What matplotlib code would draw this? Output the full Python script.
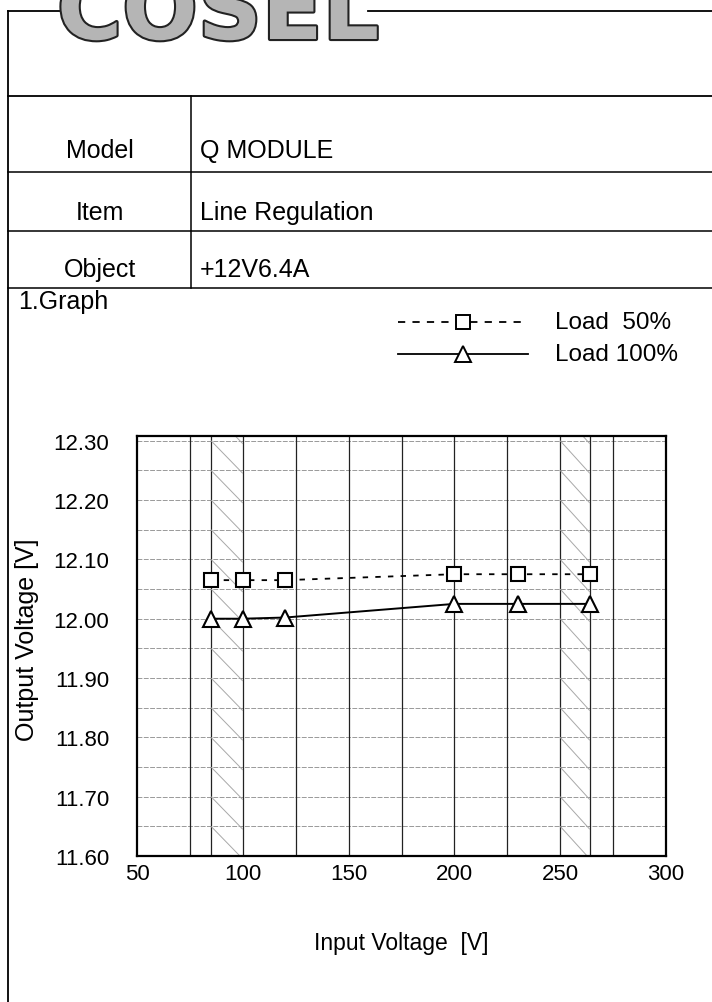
import matplotlib
matplotlib.use("Agg")
import matplotlib.pyplot as plt
import numpy as np
from matplotlib.lines import Line2D
import matplotlib.patheffects as pe

# ---------------- data ----------------
input_voltage = [85, 100, 120, 200, 230, 264]
load_50 = [12.065, 12.065, 12.065, 12.075, 12.075, 12.075]
load_100 = [12.000, 12.000, 12.002, 12.025, 12.025, 12.025]
series_labels = ["Load  50%", "Load 100%"]
x_ticks = [50, 100, 150, 200, 250, 300]
y_ticks = [11.60, 11.70, 11.80, 11.90, 12.00, 12.10, 12.20, 12.30]
hatched_bands = [(85, 100), (250, 264)]
extra_vlines = [85, 264]
table_rows = [("Model", "Q MODULE"), ("Item", "Line Regulation"), ("Object", "+12V6.4A")]

FONT = ["Liberation Sans", "DejaVu Sans"]
plt.rcParams["font.family"] = FONT

W, H = 712, 1003
fig = plt.figure(figsize=(W / 100, H / 100), dpi=100)
fig.patch.set_facecolor("white")


def fx(px):
    return px / W


def fy(py):
    return 1 - py / H


def hline(y, x0, x1, lw=1.2, color="black"):
    fig.add_artist(Line2D([fx(x0), fx(x1)], [fy(y), fy(y)], lw=lw, color=color))


def vline(x, y0, y1, lw=1.2, color="black"):
    fig.add_artist(Line2D([fx(x), fx(x)], [fy(y0), fy(y1)], lw=lw, color=color))


# ---------------- form frame ----------------
vline(8, 12, H, lw=1.3)
hline(12, 8, 68, lw=1.3)
hline(12, 368, W, lw=1.3)
hline(97, 8, W, lw=1.3)
row_text_y = [151, 213, 270]
row_lines_y = [173, 232, 289]
for yl in row_lines_y:
    hline(yl, 8, W, lw=1.1)
vline(191, 97, row_lines_y[-1], lw=1.1)

for (lab, val), ty in zip(table_rows, row_text_y):
    fig.text(fx(100), fy(ty), lab, ha="center", va="center", fontsize=18)
    fig.text(fx(200), fy(ty), val, ha="left", va="center", fontsize=18)

fig.text(fx(18), fy(302), "1.Graph", ha="left", va="center", fontsize=18)

# logo (top part cut off by the page edge)
fig.text(fx(218), fy(40), "COSEL", ha="center", va="baseline", fontsize=64,
         fontweight="bold", family="DejaVu Sans", color="#b5b5b5",
         path_effects=[pe.withStroke(linewidth=3, foreground="#222222")])

# ---------------- plot ----------------
ax_l, ax_r, ax_t, ax_b = 137, 666, 437, 857
ax = fig.add_axes([fx(ax_l), fy(ax_b), fx(ax_r - ax_l), (ax_b - ax_t) / H])
ax.set_xlim(50, 300)
ax.set_ylim(11.60, 12.308)

# horizontal grid every 0.05
grid_levels = np.round(np.arange(11.65, 12.301, 0.05), 2)
for g in grid_levels:
    ax.axhline(g, color="#999999", lw=0.7, dashes=(5, 1.5), zorder=1)

# vertical grid every 25 V plus band borders
for v in list(range(75, 300, 25)) + extra_vlines:
    ax.axvline(v, color="#222222", lw=0.9, zorder=1)

# hatched spec bands
for x0, x1 in hatched_bands:
    for g in np.concatenate([grid_levels, [12.35]]):
        ax.plot([x0, x1], [g, g - 0.055], color="#a8a8a8", lw=0.7, zorder=1,
                solid_capstyle="butt")

ax.plot(input_voltage, load_50, color="black", lw=1.3, dashes=(3, 4),
        marker="s", ms=10, mfc="white", mec="black", mew=1.5, zorder=3)
ax.plot(input_voltage, load_100, color="black", lw=1.4, ls="-",
        marker="^", ms=11, mfc="white", mec="black", mew=1.5, zorder=3)

ax.set_xticks(x_ticks)
ax.set_yticks(y_ticks)
ax.set_yticklabels([f"{v:.2f}" for v in y_ticks])
ax.tick_params(length=0, labelsize=16, pad=5)
ax.tick_params(axis="y", pad=20)
for s in ax.spines.values():
    s.set_linewidth(1.6)
    s.set_color("black")

ax.set_xlabel("Input Voltage  [V]", fontsize=16.5, labelpad=34)
fig.text(fx(27), fy(640), "Output Voltage [V]", rotation=90, ha="center",
         va="center", fontsize=18)

# ---------------- legend (outside plot) ----------------
leg_rows = [323, 355]
styles = [dict(dashes=(4, 4), marker="s", ms=10), dict(ls="-", marker="^", ms=11)]
for yrow, st, lab in zip(leg_rows, styles, series_labels):
    kw = {k: v for k, v in st.items() if k not in ("marker", "ms")}
    fig.add_artist(Line2D([fx(398), fx(528)], [fy(yrow), fy(yrow)], color="black",
                          lw=1.3, **kw))
    fig.add_artist(Line2D([fx(463)], [fy(yrow)], marker=st["marker"], ms=st["ms"],
                          mfc="white", mec="black", mew=1.4, ls="none"))
    fig.text(fx(555), fy(yrow), lab, ha="left", va="center", fontsize=17.5)

fig.savefig("out.png", dpi=100)
